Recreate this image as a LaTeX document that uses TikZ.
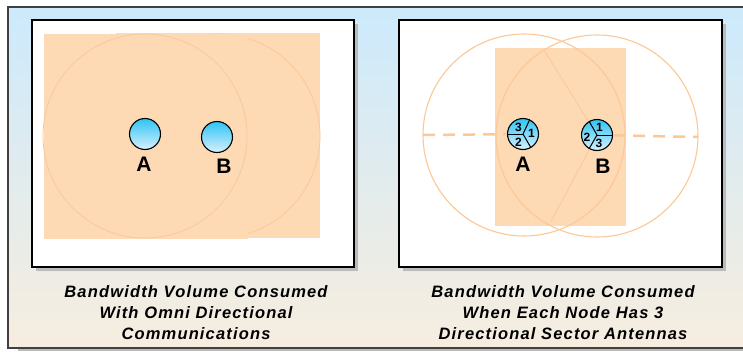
\documentclass[tikz,border=0pt]{standalone}
\usepackage{fontspec}
\setsansfont{Liberation Sans}
\newfontfamily\capfont[LetterSpace=7]{Liberation Sans}
\usetikzlibrary{calc}

\definecolor{peach}{HTML}{FDD9B4}
\definecolor{peachline}{HTML}{FCC898}
\definecolor{skytop}{HTML}{CCEAFC}
\definecolor{sandbot}{HTML}{F7EDDF}
\definecolor{nodetop}{HTML}{2FC4F4}
\definecolor{nodebot}{HTML}{D8F0FE}
\definecolor{dropgray}{HTML}{BBBBBB}

\tikzset{
  panel/.style={draw=black, line width=1.3pt, fill=white},
  dropshadow/.style={fill=dropgray},
  zone/.style={fill=peach},
  coverage/.style={draw=peachline, line width=1.1pt},
  station/.style={circle, draw=black, line width=1.1pt, minimum size=31pt, inner sep=0pt,
    top color=nodetop, bottom color=nodebot},
  tag/.style={font=\sffamily\bfseries\fontsize{21}{21}\selectfont, inner sep=0pt, anchor=base},
  sector/.style={font=\sffamily\bfseries\fontsize{12}{12}\selectfont, inner sep=0pt},
  caption/.style={font=\capfont\bfseries\itshape\fontsize{16.5}{21}\selectfont, align=center},
  boundary/.style={draw=peachline, line width=2.5pt, dash pattern=on 12pt off 8pt},
}

\begin{document}
\begin{tikzpicture}[x=1pt,y=-1pt]
  \useasboundingbox (0,0) rectangle (743,351);
  \clip (0,0) rectangle (743,351);

  % frame
  \fill[dropgray] (18,10) rectangle (760,351);
  \shade[top color=skytop, bottom color=sandbot, draw=black!75, line width=1.5pt]
    (8,7) rectangle (760,348);

  % panels
  \fill[dropshadow] (36,24) rectangle (358,271);
  \draw[panel] (32,20) rectangle (354,267);
  \fill[dropshadow] (403,24) rectangle (726,271);
  \draw[panel] (399,20) rectangle (722,267);

  % omni directional
  \fill[zone] (116,33) rectangle (320,238);
  \draw[coverage, line width=0.8pt] (218,136) circle (102);
  \fill[zone] (44,34) rectangle (248,239);
  \draw[coverage, line width=0.8pt] (145,136) circle (102);

  \node[station] (omniA) at (145,134) {};
  \node[station] (omniB) at (217,137) {};
  \node[tag] (omniAtag) at (144,171) {A};
  \node[tag] (omniBtag) at (224,173) {B};

  % sector antennas
  \fill[zone] (495,48) rectangle (626,226);
  \draw[coverage] (524,135) circle (101);
  \draw[coverage] (597,136) circle (101);

  \node[station] (sectA) at (523,134) {};
  \node[station] (sectB) at (597,135) {};
  \coordinate (edgeA) at (423,135);
  \coordinate (edgeB) at (698,137);
  \coordinate (topB) at ($(sectB)+(-122:101)$);
  \coordinate (botB) at ($(sectB)+(118:98)$);

  \draw[coverage, line width=0.8pt] (sectB) -- (topB);
  \draw[coverage, line width=0.8pt] (sectB) -- (botB);
  \draw[boundary] (edgeA) -- (sectA);
  \draw[boundary] (sectB) -- (edgeB);

  \draw[line width=1pt] (sectA.center) -- (sectA.west);
  \draw[line width=1pt] (sectA.center) -- (sectA.65);
  \draw[line width=1pt] (sectA.center) -- (sectA.-60);
  \draw[line width=1pt] (sectB.center) -- (sectB.east);
  \draw[line width=1pt] (sectB.center) -- (sectB.120);
  \draw[line width=1pt] (sectB.center) -- (sectB.240);

  \node[sector] (a3) at ($(sectA)+(-4.5,-7)$) {3};
  \node[sector] (a1) at ($(sectA)+(8.5,-0.5)$) {1};
  \node[sector] (a2) at ($(sectA)+(-4.5,8)$) {2};
  \node[sector] (b1) at ($(sectB)+(2.5,-8)$) {1};
  \node[sector] (b2) at ($(sectB)+(-10,2)$) {2};
  \node[sector] (b3) at ($(sectB)+(2,8.5)$) {3};

  \node[tag] (sectAtag) at (523,171) {A};
  \node[tag] (sectBtag) at (603,173) {B};

  % captions
  \node[caption] (omniCap) at (196,313)
    {Bandwidth Volume Consumed\\With Omni Directional\\Communications};
  \node[caption] (sectCap) at (563,313)
    {Bandwidth Volume Consumed\\When Each Node Has 3\\Directional Sector Antennas};
\end{tikzpicture}
\end{document}
